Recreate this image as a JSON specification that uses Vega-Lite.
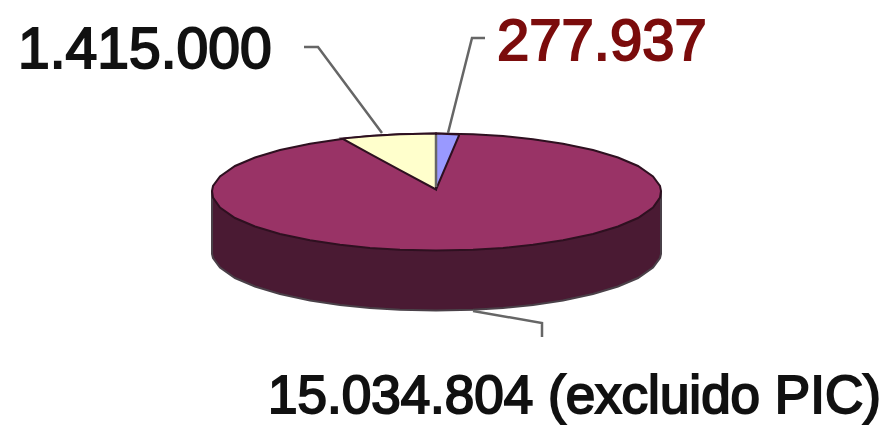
{
"$schema":"https://vega.github.io/schema/vega-lite/v6.json",
"width":892,"height":425,"padding":0,
"autosize":{"type":"none"},
"background":"white",
"view":{"stroke":null},
"datasets":{
"side":[{"x":212,"y":192,"y2":254},{"x":213,"y":192,"y2":258},{"x":220,"y":192,"y2":267.5},{"x":235,"y":192,"y2":278},{"x":255,"y":192,"y2":286.5},{"x":280,"y":192,"y2":294},{"x":310,"y":192,"y2":300.5},{"x":340,"y":192,"y2":305},{"x":370,"y":192,"y2":308},{"x":400,"y":192,"y2":309.8},{"x":436,"y":192,"y2":310.5},{"x":473,"y":192,"y2":309.8},{"x":503,"y":192,"y2":308},{"x":533,"y":192,"y2":305},{"x":563,"y":192,"y2":300.5},{"x":593,"y":192,"y2":294},{"x":618,"y":192,"y2":286.5},{"x":638,"y":192,"y2":278},{"x":653,"y":192,"y2":267.5},{"x":660,"y":192,"y2":258},{"x":661,"y":192,"y2":254}],
"top":[{"x":212,"y":191,"y2":191},{"x":213,"y":186,"y2":197.5},{"x":220,"y":176.5,"y2":207.5},{"x":235,"y":166,"y2":218},{"x":255,"y":157.5,"y2":226.5},{"x":280,"y":150,"y2":234},{"x":310,"y":143.7,"y2":240.3},{"x":340,"y":139.2,"y2":244.8},{"x":370,"y":136.1,"y2":247.9},{"x":400,"y":134.3,"y2":249.7},{"x":436,"y":133.5,"y2":250.5},{"x":473,"y":134.3,"y2":249.7},{"x":503,"y":136.1,"y2":247.9},{"x":533,"y":139.2,"y2":244.8},{"x":563,"y":143.7,"y2":240.3},{"x":593,"y":150,"y2":234},{"x":618,"y":157.5,"y2":226.5},{"x":638,"y":166,"y2":218},{"x":653,"y":176.5,"y2":207.5},{"x":660,"y":186,"y2":197.5},{"x":661,"y":191,"y2":191}],
"yellow":[{"x":342,"y":138.5,"y2":138.5},{"x":370,"y":136.1,"y2":153.8},{"x":400,"y":134.3,"y2":170.2},{"x":436,"y":133.5,"y2":189.5}],
"blue":[{"x":436,"y":133.5,"y2":189.5},{"x":459,"y":134.5,"y2":135.5}],
"leaders":[{"id":"a","o":1,"x":304,"y":47},{"id":"a","o":2,"x":318,"y":47},{"id":"a","o":3,"x":382,"y":133},{"id":"b","o":1,"x":485,"y":38},{"id":"b","o":2,"x":472,"y":38},{"id":"b","o":3,"x":448,"y":133},{"id":"c","o":1,"x":473,"y":311},{"id":"c","o":2,"x":542,"y":323},{"id":"c","o":3,"x":542,"y":337},{"id":"d","o":1,"x":436,"y":135},{"id":"d","o":2,"x":436,"y":187}],
"labels":[{"label":"1.415.000","x":18,"y":68,"size":57,"color":"#111111"},{"label":"277.937","x":497,"y":60,"size":58,"color":"#7b0c0c"},{"label":"15.034.804 (excluido PIC)","x":268,"y":413,"size":53,"color":"#111111"}]
},
"encoding":{
"x":{"field":"x","type":"quantitative","scale":{"domain":[0,892],"nice":false,"zero":false},"axis":null},
"y":{"field":"y","type":"quantitative","scale":{"domain":[425,0],"nice":false,"zero":false},"axis":null}
},
"layer":[
{"data":{"name":"side"},"mark":{"type":"area","orient":"vertical","fill":"#4a1a33","stroke":"#4a4048","strokeWidth":2},"encoding":{"y2":{"field":"y2"}}},
{"data":{"name":"top"},"mark":{"type":"area","orient":"vertical","fill":"#993366","stroke":"#2e1020","strokeWidth":2},"encoding":{"y2":{"field":"y2"}}},
{"data":{"name":"yellow"},"mark":{"type":"area","orient":"vertical","fill":"#ffffcc","stroke":"#2e1020","strokeWidth":2},"encoding":{"y2":{"field":"y2"}}},
{"data":{"name":"blue"},"mark":{"type":"area","orient":"vertical","fill":"#9999ff","stroke":"#2e1020","strokeWidth":2},"encoding":{"y2":{"field":"y2"}}},
{"data":{"name":"leaders"},"mark":{"type":"line","stroke":"#666666","strokeWidth":2.5},"encoding":{"detail":{"field":"id"},"order":{"field":"o","type":"ordinal"}}},
{"data":{"name":"labels"},"mark":{"type":"text","align":"left","baseline":"alphabetic","font":"Liberation Sans","strokeWidth":2},"encoding":{"text":{"field":"label"},"size":{"field":"size","type":"quantitative","scale":null},"color":{"field":"color","type":"nominal","scale":null},"stroke":{"field":"color","type":"nominal","scale":null}}}
]
}
